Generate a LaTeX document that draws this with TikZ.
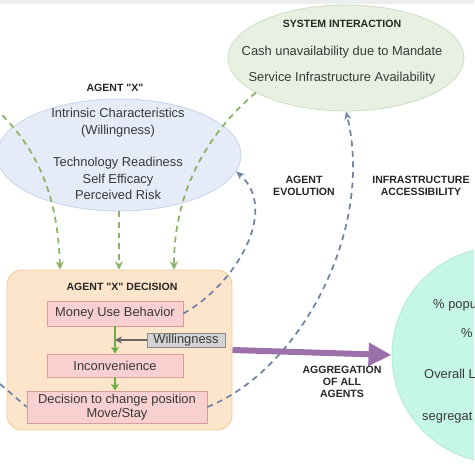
\documentclass[tikz,border=0pt]{standalone}
\usepackage{fontspec}
\setmainfont{Liberation Sans}[Ligatures=TeXOff]
\usetikzlibrary{shapes.geometric,arrows.meta}
\definecolor{sysfill}{HTML}{E7F0E1}
\definecolor{sysline}{HTML}{D3E0C9}
\definecolor{agfill}{HTML}{E5ECF8}
\definecolor{agline}{HTML}{CAD6EB}
\definecolor{decfill}{HTML}{FDE5CB}
\definecolor{decline}{HTML}{F4CC99}
\definecolor{pinkfill}{HTML}{F8D0D0}
\definecolor{pinkline}{HTML}{D99B9B}
\definecolor{wfill}{HTML}{D3D3D3}
\definecolor{wline}{HTML}{8A8A8A}
\definecolor{gsolid}{HTML}{6AAE48}
\definecolor{gdashc}{HTML}{88B565}
\definecolor{bdashc}{HTML}{6F84A6}
\definecolor{purp}{HTML}{9C70AB}
\definecolor{mintfill}{HTML}{C6F6E6}
\definecolor{mintline}{HTML}{B6EAD7}
\begin{document}
\begin{tikzpicture}[x=0.03cm, y=-0.03cm,
  lbl/.style={font=\fontsize{9}{10}\selectfont\bfseries, align=center, text=black!85},
  txt/.style={font=\fontsize{11}{14}\selectfont, align=center, text=black!78},
  pbox/.style={draw=pinkline, fill=pinkfill, semithick, txt, inner sep=0pt, minimum width=4.08cm},
  gdash/.style={draw=gdashc, line width=1.5pt, dash pattern=on 5pt off 4pt, -{Stealth[length=7pt,width=7pt]}},
  bdash/.style={draw=bdashc, line width=1.5pt, dash pattern=on 5pt off 4pt, -{Stealth[length=7pt,width=6pt]}}]
\clip (0,0) rectangle (474,474);
\fill[black!7] (0,0) rectangle (474,4);

\node[ellipse, draw=sysline, fill=sysfill, thick, minimum width=7.08cm, minimum height=3.18cm] (e1) at (346,58) {};
\node[lbl] (l1) at (342,24) {SYSTEM INTERACTION};
\node[txt] (t1) at (342,65) {Cash unavailability due to Mandate\\[8pt]Service Infrastructure Availability};

\node[ellipse, draw=agline, fill=agfill, thick, minimum width=7.32cm, minimum height=3.36cm] (e2) at (119,155) {};
\node[lbl] (l2) at (115,88) {AGENT "X"};
\node[txt] (t2) at (118,154) {Intrinsic Characteristics\\(Willingness)\\[14pt]Technology Readiness\\Self Efficacy\\Perceived Risk};

\node[draw=decline, fill=decfill, thick, rounded corners=0.45cm, minimum width=6.75cm, minimum height=4.8cm] (d) at (119.5,350) {};
\node[lbl] (l3) at (122,287) {AGENT "X" DECISION};
\node[pbox, minimum height=0.75cm] (b1) at (115,313.5) {Money Use Behavior};
\node[pbox, minimum height=0.69cm] (b2) at (115,365.5) {Inconvenience};
\node[pbox, minimum width=5.4cm, minimum height=0.96cm, font=\fontsize{11}{11.5}\selectfont] (b3) at (117,407) {Decision to change position\\Move/Stay};
\node[draw=wline, fill=wfill, semithick, font=\fontsize{11}{13}\selectfont, text=black!78, inner sep=0pt, text height=7.6pt, text depth=2.2pt, minimum width=2.34cm, minimum height=0.42cm] (b4) at (186,340) {Willingness};

\node[circle, draw=mintline, fill=mintfill, thick, minimum size=6.48cm] (c) at (500,355) {};
\node[txt, anchor=west, inner sep=0pt] (r1) at (433,305) {\% popu};
\node[txt, anchor=west, inner sep=0pt] (r2) at (461,333) {\%};
\node[txt, anchor=west, inner sep=0pt] (r3) at (424,374) {Overall L};
\node[txt, anchor=west, inner sep=0pt] (r4) at (422,418) {segregat};

\draw[gsolid, line width=1.5pt, -{Stealth[length=6pt,width=7pt]}] (b1) -- (b2);
\draw[gsolid, line width=1.5pt, -{Stealth[length=6pt,width=7pt]}] (b2.south) -- (b2.south |- b3.north);
\draw[black!60, line width=1.3pt, -{Stealth[length=6pt,width=6pt]}] (b4.west) -- (b4.west -| b1.south);

\coordinate (p1) at (-5,108);
\draw[gdash] (p1) .. controls (40,150) and (58,200) .. (60,0 |- d.north);
\draw[gdash] (e2.south) -- (e2.south |- d.north);
\draw[gdash] (e1.201) .. controls (200,140) and (174,200) .. (174,0 |- d.north);

\draw[bdash] (b1.east) .. controls (235,285) and (280,210) .. (e2.-8);
\draw[bdash] (b3.east) .. controls (300,370) and (375,230) .. (e1.south);
\coordinate (p2) at (-8,377);
\draw[bdash, -] (p2) -- (b3.west);

\draw[purp, line width=0.18cm, -{Triangle[length=0.69cm, width=0.66cm]}] (d.east) -- (c.west);

\node[lbl] (l4) at (304,186) {AGENT\\EVOLUTION};
\node[lbl] (l5) at (421,186) {INFRASTRUCTURE\\ACCESSIBILITY};
\node[lbl] (l6) at (342,382) {AGGREGATION\\OF ALL\\AGENTS};
\end{tikzpicture}
\end{document}
